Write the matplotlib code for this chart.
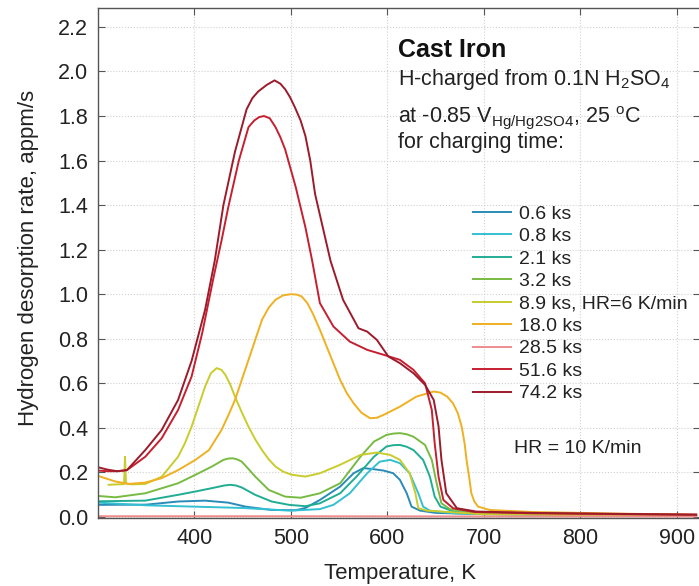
import matplotlib
matplotlib.use("Agg")
from matplotlib import pyplot as plt

plt.rcParams['font.family'] = ['Liberation Sans', 'DejaVu Sans']
plt.rcParams['mathtext.fontset'] = 'custom'
plt.rcParams['mathtext.rm'] = 'Liberation Sans'
plt.rcParams['mathtext.it'] = 'Liberation Sans:italic'
plt.rcParams['mathtext.bf'] = 'Liberation Sans:bold'

# charging times and colours
labels = ['0.6 ks', '0.8 ks', '2.1 ks', '3.2 ks', '8.9 ks, HR=6 K/min',
          '18.0 ks', '28.5 ks', '51.6 ks', '74.2 ks']
colors = ['#2b8bb8', '#33c0d2', '#20ad94', '#78bb42', '#c9cc2c',
          '#efb021', '#f08c8c', '#c61f30', '#9c1b2b']

# temperature (K) / desorption rate (appm/s)
T_06 = [300, 350, 383, 411, 435, 453, 480, 505, 515, 530, 551, 565, 575, 586, 596, 606,
        613, 620, 625, 634, 650, 700, 800, 920]
v_06 = [0.054, 0.055, 0.069, 0.073, 0.064, 0.046, 0.031, 0.030, 0.040, 0.076, 0.136,
        0.196, 0.219, 0.214, 0.208, 0.196, 0.166, 0.106, 0.046, 0.028, 0.018, 0.012,
        0.008, 0.006]

T_08 = [300, 350, 400, 450, 500, 530, 544, 561, 579, 592, 603, 613, 623, 632, 637, 644,
        670, 750, 920]
v_08 = [0.064, 0.052, 0.046, 0.040, 0.028, 0.035, 0.054, 0.106, 0.196, 0.248, 0.256,
        0.241, 0.196, 0.106, 0.046, 0.028, 0.016, 0.010, 0.006]

T_21 = [300, 349, 383, 401, 418, 431, 437, 443, 449, 463, 480, 498, 515, 530, 551, 568,
        586, 599, 606, 613, 620, 627, 637, 644, 649, 655, 670, 750, 920]
v_21 = [0.070, 0.073, 0.099, 0.114, 0.129, 0.141, 0.144, 0.141, 0.132, 0.099, 0.069,
        0.054, 0.048, 0.061, 0.106, 0.181, 0.270, 0.316, 0.322, 0.323, 0.315, 0.300,
        0.256, 0.181, 0.091, 0.046, 0.022, 0.013, 0.008]

T_32 = [300, 318, 349, 383, 401, 418, 430, 435, 440, 445, 449, 456, 463, 477, 494, 510,
        530, 551, 572, 586, 599, 606, 613, 620, 627, 639, 646, 651, 656, 665, 700, 800,
        920]
v_32 = [0.094, 0.088, 0.106, 0.151, 0.189, 0.226, 0.256, 0.262, 0.263, 0.257, 0.248,
        0.215, 0.181, 0.121, 0.091, 0.086, 0.106, 0.151, 0.270, 0.338, 0.368, 0.374,
        0.376, 0.371, 0.360, 0.323, 0.256, 0.151, 0.061, 0.034, 0.016, 0.010, 0.007]

T_89 = [311, 320, 327, 328, 329, 335, 349, 366, 383, 390, 397, 404, 411, 417, 423, 428,
        432, 437, 442, 449, 456, 463, 470, 477, 484, 492, 501, 515, 530, 551, 572, 589,
        603, 613, 623, 629, 632, 641, 700, 800, 920]
v_89 = [0.144, 0.146, 0.147, 0.270, 0.150, 0.146, 0.148, 0.180, 0.270, 0.330, 0.405,
        0.495, 0.585, 0.645, 0.668, 0.660, 0.638, 0.595, 0.540, 0.470, 0.405, 0.348,
        0.300, 0.258, 0.226, 0.203, 0.189, 0.181, 0.196, 0.234, 0.278, 0.289, 0.278,
        0.256, 0.196, 0.106, 0.039, 0.028, 0.012, 0.008, 0.006]

T_180 = [300, 318, 332, 349, 366, 383, 401, 415, 428, 435, 442, 449, 456, 463, 470, 477,
         484, 492, 500, 506, 511, 517, 523, 530, 537, 544, 551, 558, 565, 573, 582, 589,
         596, 613, 630, 648, 655, 662, 668, 673, 677, 680, 682, 685, 687, 690, 694, 706,
         750, 850, 920]
v_180 = [0.184, 0.159, 0.148, 0.154, 0.174, 0.210, 0.256, 0.300, 0.390, 0.455, 0.525,
         0.615, 0.705, 0.795, 0.885, 0.940, 0.975, 0.995, 1.000, 0.998, 0.990, 0.960,
         0.910, 0.840, 0.765, 0.690, 0.615, 0.555, 0.510, 0.468, 0.443, 0.445, 0.458,
         0.495, 0.540, 0.563, 0.558, 0.540, 0.510, 0.465, 0.405, 0.330, 0.256, 0.170,
         0.106, 0.070, 0.046, 0.031, 0.022, 0.014, 0.010]

T_285 = [300, 500, 700, 920]
v_285 = [0.003, 0.003, 0.002, 0.002]

T_516 = [300, 310, 320, 330, 349, 366, 383, 397, 408, 420, 428, 435, 446, 456, 462, 467,
         472, 478, 484, 489, 494, 505, 515, 522, 530, 544, 561, 579, 596, 613, 627, 639,
         646, 649, 653, 658, 668, 690, 750, 850, 920]
v_516 = [0.208, 0.205, 0.205, 0.210, 0.270, 0.353, 0.480, 0.630, 0.825, 1.080, 1.240,
         1.390, 1.600, 1.750, 1.780, 1.795, 1.800, 1.790, 1.750, 1.705, 1.650, 1.480,
         1.300, 1.150, 0.960, 0.855, 0.787, 0.750, 0.728, 0.705, 0.660, 0.600, 0.480,
         0.330, 0.180, 0.076, 0.039, 0.022, 0.016, 0.012, 0.010]

T_742 = [300, 310, 320, 330, 349, 366, 383, 397, 411, 421, 430, 442, 454, 460, 466, 475,
         483, 489, 494, 499, 504, 510, 515, 520, 525, 533, 541, 554, 570, 579, 589, 601,
         613, 627, 639, 648, 653, 656, 661, 672, 692, 750, 850, 920]
v_742 = [0.223, 0.212, 0.205, 0.210, 0.300, 0.390, 0.525, 0.700, 0.930, 1.150, 1.400,
         1.640, 1.830, 1.880, 1.910, 1.940, 1.960, 1.945, 1.920, 1.885, 1.840, 1.780,
         1.710, 1.600, 1.450, 1.300, 1.150, 0.975, 0.847, 0.832, 0.795, 0.720, 0.690,
         0.645, 0.593, 0.525, 0.406, 0.256, 0.106, 0.039, 0.024, 0.018, 0.013, 0.010]

series = [(T_06, v_06), (T_08, v_08), (T_21, v_21), (T_32, v_32), (T_89, v_89),
          (T_180, v_180), (T_285, v_285), (T_516, v_516), (T_742, v_742)]

W, H = 699, 586
fig = plt.figure(figsize=(W / 100, H / 100), dpi=100)
ax = fig.add_axes([98 / W, (H - 518) / H, (700 - 98) / W, (518 - 8) / H])

for (t, v), lab, c in zip(series, labels, colors):
    ax.plot(t, v, color=c, lw=1.4, label=lab)

ax.set_xlim(300, 924)
ax.set_ylim(-0.005, 2.285)
ax.set_xticks([400, 500, 600, 700, 800, 900])
ax.set_yticks([i * 0.2 for i in range(12)])
ax.set_yticklabels(['%.1f' % (i * 0.2) for i in range(12)])
ax.tick_params(direction='in', length=5, width=0.8, top=True, right=True,
               labelsize=15.5, labelcolor='#222222', color='#555555', pad=7)
ax.grid(True, ls=':', lw=0.8, color='#d0d0d0')
for s in ax.spines.values():
    s.set_color('#555555')
    s.set_linewidth(1.0)

fig.text(29 / W, 1 - 258 / H, 'Hydrogen desorption rate, appm/s', rotation=90,
         ha='center', va='center', fontsize=16, color='#222222')
fig.text(400 / W, 1 - 573 / H, 'Temperature, K', ha='center', va='center',
         fontsize=16, color='#222222')

fig.text(398 / W, 1 - 57 / H, 'Cast Iron', fontsize=18, fontweight='bold',
         va='baseline', color='#111111')
fig.text(398 / W, 1 - 85 / H, 'H-charged from 0.1N H$_2$SO$_4$', fontsize=15.5,
         va='baseline', color='#222222')
fig.text(398 / W, 1 - 122 / H, r'at -0.85 V$_{\mathrm{Hg/Hg2SO4}}$, 25 $^{\mathrm{o}}$C',
         fontsize=15.5, va='baseline', color='#222222')
fig.text(398 / W, 1 - 148 / H, 'for charging time:', fontsize=15.5, va='baseline',
         color='#222222')

leg = ax.legend(loc='upper left', bbox_to_anchor=(473 / W, 1 - 205 / H),
                bbox_transform=fig.transFigure, frameon=False, fontsize=14,
                borderpad=0, borderaxespad=0, handlelength=1.95, handletextpad=0.42,
                labelspacing=0.25)
for txt in leg.get_texts():
    txt.set_color('#222222')

fig.text(514 / W, 1 - 453 / H, 'HR = 10 K/min', fontsize=14, va='baseline',
         color='#222222')

fig.savefig('out.png', dpi=100)
